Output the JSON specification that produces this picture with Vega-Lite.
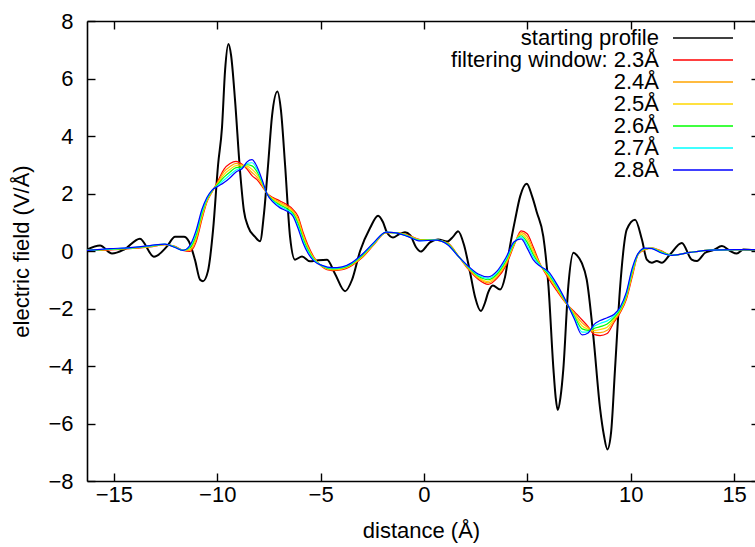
{
  "$schema": "https://vega.github.io/schema/vega-lite/v6.json",
  "width": 668,
  "height": 460,
  "autosize": {"type": "none"},
  "padding": {"left": 87, "top": 21, "right": 0, "bottom": 66},
  "background": "white",
  "config": {
    "font": "Liberation Sans",
    "view": {"stroke": null},
    "axis": {
      "grid": false,
      "domainColor": "black",
      "domainWidth": 1.6,
      "tickColor": "black",
      "tickWidth": 1.4,
      "labelColor": "black",
      "labelFontSize": 22,
      "labelFont": "Liberation Sans",
      "titleColor": "black",
      "titleFontSize": 22,
      "titleFont": "Liberation Sans",
      "titleFontWeight": "normal",
      "labelFlush": false,
      "labelOverlap": false
    },
    "legend": {
      "orient": "none",
      "legendX": 605,
      "legendY": 6,
      "padding": 0,
      "symbolType": "M -3 0 H 3",
      "symbolSize": 400,
      "symbolStrokeWidth": 1.3,
      "labelFont": "Liberation Sans",
      "labelFontSize": 22,
      "labelColor": "black",
      "labelAlign": "right",
      "labelOffset": -55,
      "labelLimit": 400,
      "rowPadding": 0
    }
  },
  "datasets": {
    "profile": [
      {"x": -16.30, "y": 0.05}, {"x": -15.67, "y": 0.19}, {"x": -15.09, "y": -0.09}, {"x": -14.51, "y": 0.05},
      {"x": -13.74, "y": 0.43}, {"x": -13.06, "y": -0.2}, {"x": -12.43, "y": 0.16}, {"x": -12.04, "y": 0.5},
      {"x": -11.61, "y": 0.5}, {"x": -11.37, "y": 0.33}, {"x": -11.08, "y": -0.3}, {"x": -10.83, "y": -1.0},
      {"x": -10.69, "y": -1.05}, {"x": -10.45, "y": -0.7}, {"x": -10.20, "y": 0.75}, {"x": -9.96, "y": 3.0},
      {"x": -9.77, "y": 4.3}, {"x": -9.62, "y": 6.3}, {"x": -9.46, "y": 7.2}, {"x": -9.33, "y": 6.8},
      {"x": -9.14, "y": 5.25}, {"x": -8.90, "y": 2.8}, {"x": -8.71, "y": 1.4}, {"x": -8.51, "y": 0.85},
      {"x": -8.18, "y": 0.5}, {"x": -7.93, "y": 0.34}, {"x": -7.74, "y": 1.3}, {"x": -7.54, "y": 3.0},
      {"x": -7.35, "y": 4.7}, {"x": -7.09, "y": 5.55}, {"x": -6.92, "y": 4.9}, {"x": -6.72, "y": 3.0},
      {"x": -6.48, "y": 0.5}, {"x": -6.24, "y": -0.3}, {"x": -5.90, "y": -0.19}, {"x": -5.51, "y": -0.36},
      {"x": -5.12, "y": -0.32}, {"x": -4.69, "y": -0.3}, {"x": -4.30, "y": -0.8}, {"x": -3.82, "y": -1.4},
      {"x": -3.48, "y": -1.0}, {"x": -3.09, "y": 0.0}, {"x": -2.61, "y": 0.8}, {"x": -2.22, "y": 1.23},
      {"x": -1.98, "y": 1.0}, {"x": -1.79, "y": 0.64}, {"x": -1.50, "y": 0.47}, {"x": -1.21, "y": 0.58},
      {"x": -0.92, "y": 0.65}, {"x": -0.67, "y": 0.55}, {"x": -0.40, "y": 0.15}, {"x": -0.15, "y": -0.02},
      {"x": 0.10, "y": 0.15}, {"x": 0.29, "y": 0.3}, {"x": 0.68, "y": 0.4}, {"x": 1.12, "y": 0.33},
      {"x": 1.41, "y": 0.5}, {"x": 1.65, "y": 0.69}, {"x": 1.94, "y": 0.2}, {"x": 2.23, "y": -0.75},
      {"x": 2.47, "y": -1.6}, {"x": 2.75, "y": -2.09}, {"x": 2.95, "y": -1.8}, {"x": 3.10, "y": -1.45},
      {"x": 3.33, "y": -1.2}, {"x": 3.68, "y": -1.34}, {"x": 3.92, "y": -0.9}, {"x": 4.16, "y": 0.17},
      {"x": 4.41, "y": 1.1}, {"x": 4.65, "y": 1.9}, {"x": 4.97, "y": 2.34}, {"x": 5.23, "y": 1.9},
      {"x": 5.46, "y": 1.34}, {"x": 5.77, "y": 0.51}, {"x": 6.02, "y": -1.22}, {"x": 6.26, "y": -4.1},
      {"x": 6.37, "y": -5.1}, {"x": 6.47, "y": -5.53}, {"x": 6.60, "y": -5.1}, {"x": 6.74, "y": -4.1},
      {"x": 6.98, "y": -1.22}, {"x": 7.23, "y": -0.06}, {"x": 7.40, "y": -0.15}, {"x": 7.63, "y": -0.41},
      {"x": 7.87, "y": -0.99}, {"x": 8.19, "y": -2.96}, {"x": 8.52, "y": -5.5}, {"x": 8.70, "y": -6.4},
      {"x": 8.87, "y": -6.9}, {"x": 9.05, "y": -6.3}, {"x": 9.24, "y": -4.1}, {"x": 9.49, "y": -1.22},
      {"x": 9.81, "y": 0.75}, {"x": 10.21, "y": 1.09}, {"x": 10.54, "y": 0.4}, {"x": 10.78, "y": -0.3},
      {"x": 11.02, "y": -0.41}, {"x": 11.26, "y": -0.35}, {"x": 11.50, "y": -0.41}, {"x": 11.90, "y": -0.12},
      {"x": 12.47, "y": 0.28}, {"x": 12.95, "y": -0.3}, {"x": 13.20, "y": -0.35}, {"x": 13.60, "y": -0.06},
      {"x": 14.00, "y": 0.03}, {"x": 14.41, "y": 0.17}, {"x": 14.81, "y": 0.0}, {"x": 15.13, "y": -0.09},
      {"x": 15.45, "y": 0.05}, {"x": 16.01, "y": 0.02}
    ],
    "filtered": [
      {"x": -16.30, "w23": 0.02, "w24": 0.02, "w25": 0.02, "w26": 0.02, "w27": 0.02, "w28": 0.02},
      {"x": -15.19, "w23": 0.04, "w24": 0.05, "w25": 0.06, "w26": 0.06, "w27": 0.07, "w28": 0.08},
      {"x": -14.22, "w23": 0.08, "w24": 0.09, "w25": 0.10, "w26": 0.10, "w27": 0.11, "w28": 0.12},
      {"x": -13.25, "w23": 0.14, "w24": 0.15, "w25": 0.16, "w26": 0.17, "w27": 0.18, "w28": 0.19},
      {"x": -12.53, "w23": 0.22, "w24": 0.22, "w25": 0.23, "w26": 0.23, "w27": 0.24, "w28": 0.24},
      {"x": -12.04, "w23": 0.16, "w24": 0.15, "w25": 0.14, "w26": 0.14, "w27": 0.13, "w28": 0.12},
      {"x": -11.66, "w23": 0.02, "w24": 0.02, "w25": 0.02, "w26": 0.02, "w27": 0.02, "w28": 0.02},
      {"x": -11.32, "w23": -0.01, "w24": 0.03, "w25": 0.07, "w26": 0.12, "w27": 0.16, "w28": 0.2},
      {"x": -11.03, "w23": 0.3, "w24": 0.38, "w25": 0.46, "w26": 0.54, "w27": 0.62, "w28": 0.7},
      {"x": -10.74, "w23": 1.1, "w24": 1.17, "w25": 1.24, "w26": 1.31, "w27": 1.38, "w28": 1.45},
      {"x": -10.50, "w23": 1.7, "w24": 1.73, "w25": 1.76, "w26": 1.8, "w27": 1.83, "w28": 1.86},
      {"x": -10.25, "w23": 2.05, "w24": 2.06, "w25": 2.08, "w26": 2.09, "w27": 2.11, "w28": 2.12},
      {"x": -9.96, "w23": 2.45, "w24": 2.41, "w25": 2.37, "w26": 2.33, "w27": 2.29, "w28": 2.25},
      {"x": -9.67, "w23": 2.85, "w24": 2.76, "w25": 2.66, "w26": 2.57, "w27": 2.47, "w28": 2.38},
      {"x": -9.38, "w23": 3.04, "w24": 2.94, "w25": 2.84, "w26": 2.75, "w27": 2.65, "w28": 2.55},
      {"x": -9.09, "w23": 3.12, "w24": 3.05, "w25": 2.97, "w26": 2.9, "w27": 2.82, "w28": 2.75},
      {"x": -8.80, "w23": 3.02, "w24": 2.99, "w25": 2.96, "w26": 2.92, "w27": 2.89, "w28": 2.86},
      {"x": -8.56, "w23": 2.85, "w24": 2.9, "w25": 2.95, "w26": 3.0, "w27": 3.05, "w28": 3.1},
      {"x": -8.32, "w23": 2.62, "w24": 2.73, "w25": 2.84, "w26": 2.96, "w27": 3.07, "w28": 3.18},
      {"x": -8.08, "w23": 2.48, "w24": 2.57, "w25": 2.66, "w26": 2.76, "w27": 2.85, "w28": 2.94},
      {"x": -7.83, "w23": 2.25, "w24": 2.3, "w25": 2.34, "w26": 2.39, "w27": 2.43, "w28": 2.48},
      {"x": -7.59, "w23": 2.0, "w24": 2.0, "w25": 1.99, "w26": 1.99, "w27": 1.98, "w28": 1.98},
      {"x": -7.30, "w23": 1.86, "w24": 1.83, "w25": 1.8, "w26": 1.76, "w27": 1.73, "w28": 1.7},
      {"x": -6.96, "w23": 1.74, "w24": 1.69, "w25": 1.64, "w26": 1.6, "w27": 1.55, "w28": 1.5},
      {"x": -6.62, "w23": 1.61, "w24": 1.56, "w25": 1.52, "w26": 1.47, "w27": 1.43, "w28": 1.38},
      {"x": -6.33, "w23": 1.44, "w24": 1.39, "w25": 1.34, "w26": 1.3, "w27": 1.25, "w28": 1.2},
      {"x": -6.09, "w23": 1.2, "w24": 1.12, "w25": 1.03, "w26": 0.95, "w27": 0.86, "w28": 0.78},
      {"x": -5.85, "w23": 0.65, "w24": 0.58, "w25": 0.5, "w26": 0.43, "w27": 0.35, "w28": 0.28},
      {"x": -5.61, "w23": 0.2, "w24": 0.14, "w25": 0.09, "w26": 0.03, "w27": -0.02, "w28": -0.08},
      {"x": -5.32, "w23": -0.22, "w24": -0.25, "w25": -0.27, "w26": -0.3, "w27": -0.32, "w28": -0.35},
      {"x": -4.93, "w23": -0.55, "w24": -0.54, "w25": -0.53, "w26": -0.52, "w27": -0.51, "w28": -0.5},
      {"x": -4.45, "w23": -0.68, "w24": -0.66, "w25": -0.64, "w26": -0.62, "w27": -0.6, "w28": -0.58},
      {"x": -3.96, "w23": -0.65, "w24": -0.63, "w25": -0.61, "w26": -0.59, "w27": -0.57, "w28": -0.55},
      {"x": -3.48, "w23": -0.5, "w24": -0.48, "w25": -0.46, "w26": -0.44, "w27": -0.42, "w28": -0.4},
      {"x": -3.00, "w23": -0.24, "w24": -0.22, "w25": -0.19, "w26": -0.17, "w27": -0.14, "w28": -0.12},
      {"x": -2.42, "w23": 0.22, "w24": 0.24, "w25": 0.25, "w26": 0.27, "w27": 0.28, "w28": 0.3},
      {"x": -1.84, "w23": 0.64, "w24": 0.64, "w25": 0.65, "w26": 0.65, "w27": 0.66, "w28": 0.66},
      {"x": -1.35, "w23": 0.64, "w24": 0.64, "w25": 0.64, "w26": 0.63, "w27": 0.63, "w28": 0.63},
      {"x": -0.77, "w23": 0.55, "w24": 0.54, "w25": 0.53, "w26": 0.52, "w27": 0.51, "w28": 0.5},
      {"x": -0.19, "w23": 0.4, "w24": 0.39, "w25": 0.38, "w26": 0.37, "w27": 0.36, "w28": 0.35},
      {"x": 0.58, "w23": 0.38, "w24": 0.38, "w25": 0.38, "w26": 0.38, "w27": 0.38, "w28": 0.38},
      {"x": 1.16, "w23": 0.28, "w24": 0.27, "w25": 0.25, "w26": 0.24, "w27": 0.22, "w28": 0.21},
      {"x": 1.65, "w23": -0.16, "w24": -0.16, "w25": -0.17, "w26": -0.17, "w27": -0.18, "w28": -0.18},
      {"x": 2.13, "w23": -0.62, "w24": -0.6, "w25": -0.58, "w26": -0.56, "w27": -0.54, "w28": -0.52},
      {"x": 2.62, "w23": -0.98, "w24": -0.94, "w25": -0.91, "w26": -0.87, "w27": -0.84, "w28": -0.8},
      {"x": 3.10, "w23": -1.16, "w24": -1.11, "w25": -1.06, "w26": -1.0, "w27": -0.95, "w28": -0.9},
      {"x": 3.53, "w23": -0.95, "w24": -0.9, "w25": -0.85, "w26": -0.8, "w27": -0.75, "w28": -0.7},
      {"x": 3.97, "w23": -0.5, "w24": -0.44, "w25": -0.39, "w26": -0.33, "w27": -0.28, "w28": -0.22},
      {"x": 4.36, "w23": 0.2, "w24": 0.22, "w25": 0.25, "w26": 0.27, "w27": 0.3, "w28": 0.32},
      {"x": 4.70, "w23": 0.7, "w24": 0.64, "w25": 0.59, "w26": 0.53, "w27": 0.48, "w28": 0.42},
      {"x": 4.99, "w23": 0.6, "w24": 0.5, "w25": 0.4, "w26": 0.3, "w27": 0.2, "w28": 0.1},
      {"x": 5.28, "w23": 0.15, "w24": 0.06, "w25": -0.03, "w26": -0.12, "w27": -0.21, "w28": -0.3},
      {"x": 5.62, "w23": -0.45, "w24": -0.47, "w25": -0.48, "w26": -0.5, "w27": -0.51, "w28": -0.53},
      {"x": 6.00, "w23": -0.93, "w24": -0.88, "w25": -0.84, "w26": -0.79, "w27": -0.75, "w28": -0.7},
      {"x": 6.44, "w23": -1.4, "w24": -1.35, "w25": -1.31, "w26": -1.26, "w27": -1.22, "w28": -1.17},
      {"x": 6.87, "w23": -1.82, "w24": -1.81, "w25": -1.79, "w26": -1.78, "w27": -1.76, "w28": -1.75},
      {"x": 7.26, "w23": -2.1, "w24": -2.15, "w25": -2.2, "w26": -2.25, "w27": -2.3, "w28": -2.35},
      {"x": 7.65, "w23": -2.4, "w24": -2.5, "w25": -2.61, "w26": -2.71, "w27": -2.82, "w28": -2.92},
      {"x": 7.94, "w23": -2.63, "w24": -2.67, "w25": -2.72, "w26": -2.76, "w27": -2.81, "w28": -2.85},
      {"x": 8.23, "w23": -2.9, "w24": -2.83, "w25": -2.76, "w26": -2.69, "w27": -2.62, "w28": -2.55},
      {"x": 8.52, "w23": -2.94, "w24": -2.84, "w25": -2.73, "w26": -2.63, "w27": -2.52, "w28": -2.42},
      {"x": 8.86, "w23": -2.87, "w24": -2.76, "w25": -2.65, "w26": -2.54, "w27": -2.43, "w28": -2.32},
      {"x": 9.20, "w23": -2.47, "w24": -2.42, "w25": -2.36, "w26": -2.31, "w27": -2.25, "w28": -2.2},
      {"x": 9.49, "w23": -2.15, "w24": -2.11, "w25": -2.07, "w26": -2.03, "w27": -1.99, "w28": -1.95},
      {"x": 9.78, "w23": -1.7, "w24": -1.65, "w25": -1.6, "w26": -1.55, "w27": -1.5, "w28": -1.45},
      {"x": 10.07, "w23": -0.9, "w24": -0.84, "w25": -0.78, "w26": -0.72, "w27": -0.66, "w28": -0.6},
      {"x": 10.36, "w23": -0.12, "w24": -0.11, "w25": -0.1, "w26": -0.1, "w27": -0.09, "w28": -0.08},
      {"x": 10.70, "w23": 0.05, "w24": 0.06, "w25": 0.07, "w26": 0.08, "w27": 0.09, "w28": 0.1},
      {"x": 11.03, "w23": 0.11, "w24": 0.1, "w25": 0.1, "w26": 0.09, "w27": 0.09, "w28": 0.08},
      {"x": 11.42, "w23": 0.02, "w24": 0.01, "w25": -0.01, "w26": -0.02, "w27": -0.04, "w28": -0.05},
      {"x": 12.00, "w23": -0.15, "w24": -0.15, "w25": -0.15, "w26": -0.15, "w27": -0.15, "w28": -0.15},
      {"x": 12.87, "w23": -0.05, "w24": -0.05, "w25": -0.05, "w26": -0.05, "w27": -0.05, "w28": -0.05},
      {"x": 13.84, "w23": 0.03, "w24": 0.03, "w25": 0.03, "w26": 0.03, "w27": 0.03, "w28": 0.03},
      {"x": 15.05, "w23": 0.05, "w24": 0.05, "w25": 0.05, "w26": 0.05, "w27": 0.05, "w28": 0.05},
      {"x": 16.01, "w23": 0.05, "w24": 0.05, "w25": 0.05, "w26": 0.05, "w27": 0.05, "w28": 0.05}
    ]
  },
  "layer": [
    {
      "data": {"name": "profile"},
      "mark": {"type": "line", "interpolate": "monotone", "strokeWidth": 2, "clip": true},
      "encoding": {
        "x": {
          "field": "x", "type": "quantitative",
          "scale": {"domain": [-16.30, 16.01], "nice": false, "zero": false},
          "axis": {
            "orient": "bottom",
            "values": [-15, -10, -5, 0, 5, 10, 15],
            "tickSize": -8,
            "labelPadding": 11,
            "title": "distance (Å)",
            "titlePadding": 15
          }
        },
        "y": {
          "field": "y", "type": "quantitative",
          "scale": {"domain": [-8, 8], "nice": false, "zero": false},
          "axis": {
            "orient": "left",
            "values": [-8, -6, -4, -2, 0, 2, 4, 6, 8],
            "tickSize": -8,
            "labelPadding": 22,
            "title": "electric field (V/Å)",
            "titlePadding": 14
          }
        },
        "color": {
          "datum": "starting profile",
          "type": "nominal",
          "title": null,
          "scale": {
            "domain": ["starting profile", "w23", "w24", "w25", "w26", "w27", "w28"],
            "range": ["#000000", "#ff0000", "#ffa500", "#ffd700", "#00ff00", "#00ffff", "#0000ff"]
          },
          "legend": {
            "title": null,
            "labelExpr": "datum.value == 'starting profile' ? datum.value : datum.value == 'w23' ? 'filtering window: 2.3Å' : '2.' + substring(datum.value, 2, 3) + 'Å'"
          }
        }
      }
    },
    {
      "data": {"name": "filtered"},
      "transform": [{"fold": ["w23", "w24", "w25", "w26", "w27", "w28"], "as": ["window", "field"]}],
      "mark": {"type": "line", "interpolate": "monotone", "strokeWidth": 1.2, "clip": true},
      "encoding": {
        "x": {
          "field": "x", "type": "quantitative",
          "axis": {
            "orient": "top",
            "values": [-15, -10, -5, 0, 5, 10, 15],
            "tickSize": -8,
            "labels": false,
            "title": null
          }
        },
        "y": {
          "field": "field", "type": "quantitative",
          "axis": {
            "orient": "right",
            "values": [-8, -6, -4, -2, 0, 2, 4, 6, 8],
            "tickSize": -4,
            "labels": false,
            "domain": false,
            "title": null
          }
        },
        "color": {"field": "window", "type": "nominal", "title": null}
      }
    }
  ],
  "resolve": {"axis": {"x": "independent", "y": "independent"}}
}
